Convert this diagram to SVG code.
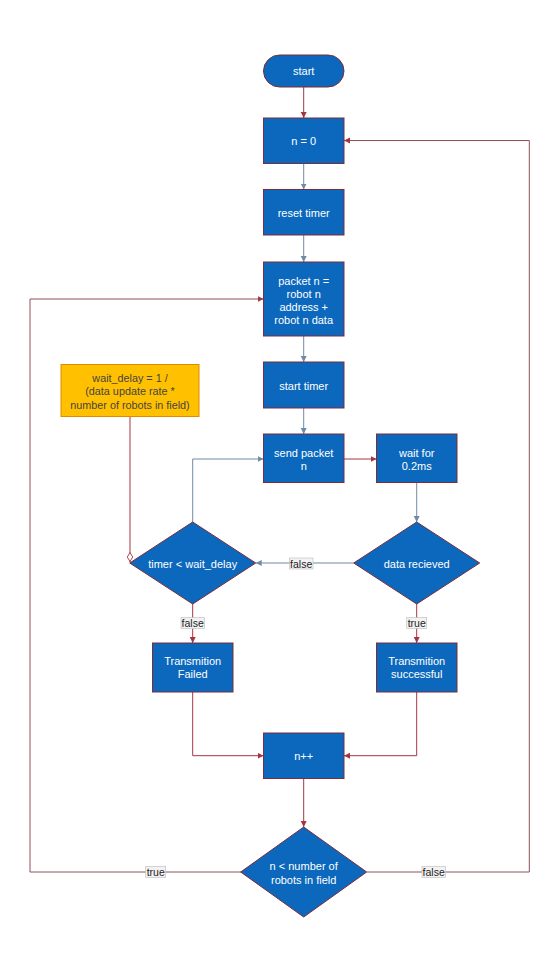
<svg xmlns="http://www.w3.org/2000/svg" width="560" height="960" viewBox="0 0 560 960">
<style>
.n{fill:#0b68bd;stroke:#7a2d3c;stroke-width:1}
.t{font-family:"Liberation Sans",Arial,sans-serif;font-size:11px;fill:#ffffff;text-anchor:middle;dominant-baseline:central}
.o{fill:#ffc000;stroke:#e08a00;stroke-width:1}
.ot{font-family:"Liberation Sans",Arial,sans-serif;font-size:10.8px;fill:#444444;text-anchor:middle;dominant-baseline:central}
.r{fill:none;stroke:#a3363f;stroke-width:1}
.b{fill:none;stroke:#6f8ba6;stroke-width:1}
.m{fill:none;stroke:#8e5058;stroke-width:1}
.lb{fill:#f2f2f2;stroke:#bbbbbb;stroke-width:0.6}
.lt{font-family:"Liberation Sans",Arial,sans-serif;font-size:10.5px;fill:#222222;text-anchor:middle;dominant-baseline:central}
</style>
<defs>
<marker id="ar" markerUnits="userSpaceOnUse" markerWidth="8" markerHeight="8" refX="6" refY="3" orient="auto"><path d="M0,0 L6,3 L0,6 z" fill="#a3363f"/></marker>
<marker id="ab" markerUnits="userSpaceOnUse" markerWidth="8" markerHeight="8" refX="6" refY="3" orient="auto"><path d="M0,0 L6,3 L0,6 z" fill="#6f8ba6"/></marker>
<marker id="od" markerUnits="userSpaceOnUse" markerWidth="12" markerHeight="8" refX="10" refY="3.5" orient="auto"><path d="M0.5,3.5 L5,0.8 L9.5,3.5 L5,6.2 z" fill="#ffffff" stroke="#a3363f" stroke-width="0.9"/></marker>
</defs>
<rect width="560" height="960" fill="#ffffff"/>
<g id="connectors">
<path class="r" d="M303.7,87 V118" marker-end="url(#ar)"/>
<path class="b" d="M303.7,163.5 V189.5" marker-end="url(#ab)"/>
<path class="b" d="M303.7,235 V262" marker-end="url(#ab)"/>
<path class="b" d="M303.7,336 V362" marker-end="url(#ab)"/>
<path class="b" d="M303.7,408 V434" marker-end="url(#ab)"/>
<path class="r" d="M344,459 H376.5" marker-end="url(#ar)"/>
<path class="b" d="M416.7,483 V522" marker-end="url(#ab)"/>
<path class="b" d="M353.7,563 H255.7" marker-end="url(#ab)"/>
<path class="b" d="M192.7,522 V459 H263.5" marker-end="url(#ab)"/>
<path class="r" d="M130,417 V562" marker-end="url(#od)"/>
<path class="r" d="M192.7,604 V643" marker-end="url(#ar)"/>
<path class="r" d="M416.7,604 V643" marker-end="url(#ar)"/>
<path class="r" d="M192.7,692 V755.7 H263.5" marker-end="url(#ar)"/>
<path class="r" d="M416.7,692 V755.7 H344" marker-end="url(#ar)"/>
<path class="r" d="M303.7,778.5 V827" marker-end="url(#ar)"/>
<path class="m" d="M241,872 H30 V299 H263.5" marker-end="url(#ar)"/>
<path class="m" d="M367,872 H529.3 V140.5 H344" marker-end="url(#ar)"/>
<rect class="lb" x="289.5" y="558" width="23.5" height="11"/>
<text class="lt" x="301.2" y="563.5">false</text>
<rect class="lb" x="181" y="617.5" width="23.5" height="11"/>
<text class="lt" x="192.7" y="623">false</text>
<rect class="lb" x="406.7" y="617.5" width="20" height="11"/>
<text class="lt" x="416.7" y="623">true</text>
<rect class="lb" x="145.7" y="866.5" width="20" height="11"/>
<text class="lt" x="155.7" y="872">true</text>
<rect class="lb" x="422" y="866.5" width="23.5" height="11"/>
<text class="lt" x="433.7" y="872">false</text>
</g>
<g id="start"><rect class="n" x="263.5" y="55" width="80.5" height="32" rx="16"/><text class="t" x="303.7" y="71">start</text></g>
<g id="n0"><rect class="n" x="263.5" y="118" width="80.5" height="45.5"/><text class="t" x="303.7" y="140.7">n = 0</text></g>
<g id="reset"><rect class="n" x="263.5" y="189.5" width="80.5" height="45.5"/><text class="t" x="303.7" y="212.5">reset timer</text></g>
<g id="packet"><rect class="n" x="263.5" y="262" width="80.5" height="74"/><text class="t" x="303.7" y="280.5">packet n =</text><text class="t" x="303.7" y="293.5">robot n</text><text class="t" x="303.7" y="306.5">address +</text><text class="t" x="303.7" y="319.5">robot n data</text></g>
<g id="starttimer"><rect class="n" x="263.5" y="362" width="80.5" height="46"/><text class="t" x="303.7" y="385.5">start timer</text></g>
<g id="waitdelay"><rect class="o" x="61" y="364.5" width="138" height="52"/><text class="ot" x="130" y="378">wait_delay = 1 /</text><text class="ot" x="130" y="391.3">(data update rate *</text><text class="ot" x="130" y="404.6">number of robots in field)</text></g>
<g id="send"><rect class="n" x="263.5" y="434" width="80.5" height="48.5"/><text class="t" x="303.7" y="452.7">send packet</text><text class="t" x="303.7" y="466">n</text></g>
<g id="wait"><rect class="n" x="376.5" y="434" width="80.5" height="48.5"/><text class="t" x="416.7" y="452.7">wait for</text><text class="t" x="416.7" y="466">0.2ms</text></g>
<g id="timerdec"><polygon class="n" points="192.7,522 255.7,563 192.7,604 129.7,563"/><text class="t" x="192.7" y="563.5">timer &lt; wait_delay</text></g>
<g id="datadec"><polygon class="n" points="416.7,522 479.7,563 416.7,604 353.7,563"/><text class="t" x="416.7" y="563.5">data recieved</text></g>
<g id="failed"><rect class="n" x="152.5" y="643" width="80.5" height="49"/><text class="t" x="192.7" y="661">Transmition</text><text class="t" x="192.7" y="673.5">Failed</text></g>
<g id="success"><rect class="n" x="376.5" y="643" width="80.5" height="49"/><text class="t" x="416.7" y="661">Transmition</text><text class="t" x="416.7" y="673.5">successful</text></g>
<g id="ninc"><rect class="n" x="263.5" y="733" width="80.5" height="45.5"/><text class="t" x="303.7" y="755.7">n++</text></g>
<g id="loopdec"><polygon class="n" points="303.7,827 366.7,872 303.7,917 240.7,872"/><text class="t" x="303.7" y="866.4">n &lt; number of</text><text class="t" x="303.7" y="879.7">robots in field</text></g>
</svg>
